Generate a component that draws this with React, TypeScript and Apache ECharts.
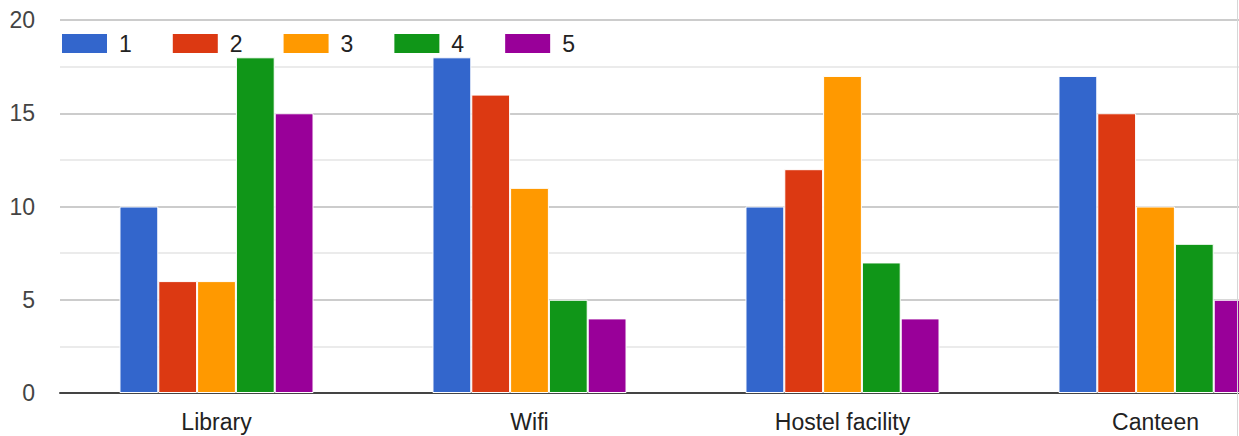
import React, { useEffect, useRef } from "react";
import * as echarts from "echarts";

const categories = ["Library", "Wifi", "Hostel facility", "Canteen"];
const seriesNames = ["1", "2", "3", "4", "5"];
const values1 = [10, 18, 10, 17];
const values2 = [6, 16, 12, 15];
const values3 = [6, 11, 17, 10];
const values4 = [18, 5, 7, 8];
const values5 = [15, 4, 4, 5];
const colors = ["#3366cc", "#dc3912", "#ff9900", "#109618", "#990099"];
const yTicks = [0, 5, 10, 15, 20];

export default function App() {
  const ref = useRef<HTMLDivElement>(null);
  useEffect(() => {
    if (!ref.current) return;
    const chart = echarts.init(ref.current, null, { renderer: "svg" });
    const data = [values1, values2, values3, values4, values5];
    chart.setOption({
      animation: false,
      color: colors,
      textStyle: { fontFamily: "Liberation Sans, Arial, sans-serif" },
      grid: { left: 60, top: 20, bottom: 43, width: 1252 },
      legend: {
        left: 60,
        top: 32,
        padding: 0,
        itemWidth: 47,
        itemHeight: 21,
        itemGap: 39,
        icon: "rect",
        data: seriesNames,
        textStyle: { fontSize: 23, color: "#222", padding: [0, 0, 0, 6] },
      },
      xAxis: {
        type: "category",
        data: categories,
        axisLine: { lineStyle: { color: "#444", width: 2 } },
        axisTick: { show: false },
        axisLabel: { fontSize: 23, color: "#222", margin: 17 },
      },
      yAxis: {
        type: "value",
        min: yTicks[0],
        max: yTicks[yTicks.length - 1],
        interval: 5,
        axisLine: { show: false },
        axisTick: { show: false },
        axisLabel: { fontSize: 23, color: "#444", margin: 25 },
        splitLine: { lineStyle: { color: "#cccccc", width: 2 } },
        minorTick: { show: false, splitNumber: 2 },
        minorSplitLine: { show: true, lineStyle: { color: "#ebebeb", width: 2 } },
      },
      series: seriesNames.map((n, i) => ({
        name: n,
        type: "bar",
        data: data[i],
        barGap: "0%",
        barCategoryGap: "38%",
        itemStyle: { borderColor: "#ffffff", borderWidth: 1 },
      })),
      graphic: [
        {
          type: "line",
          shape: { x1: 1237.5, y1: 0, x2: 1237.5, y2: 436 },
          style: { stroke: "#d6d6d6", lineWidth: 1 },
          z: 100,
        },
      ],
    });
    return () => chart.dispose();
  }, []);
  return (
    <div
      style={{
        position: "fixed",
        left: 0,
        top: 0,
        width: 1239,
        height: 436,
        overflow: "hidden",
        background: "#fff",
      }}
    >
      <div ref={ref} style={{ width: 1330, height: 436 }} />
    </div>
  );
}
